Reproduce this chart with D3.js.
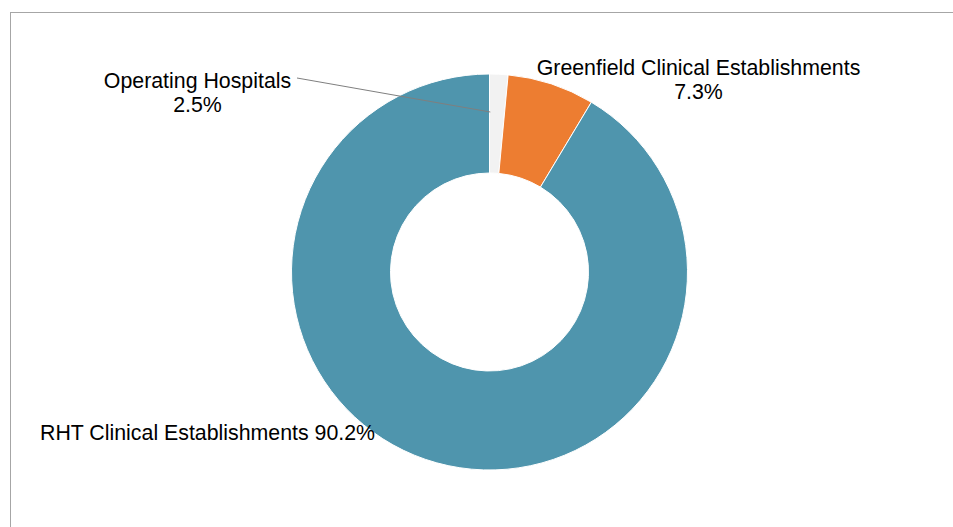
<!DOCTYPE html>
<html>
<head>
<meta charset="utf-8">
<script src="https://cdn.jsdelivr.net/npm/d3@7"></script>
<style>
  html, body { margin: 0; padding: 0; background: #fff; }
  svg { display: block; font-family: "Liberation Sans", Arial, sans-serif; }
</style>
</head>
<body>
<svg id="chart" width="953" height="527"></svg>
<script>
// slice shares as drawn in the picture, clockwise from 12 o'clock
const categories = ['Operating Hospitals', 'Greenfield Clinical Establishments', 'RHT Clinical Establishments'];
const values = [1.5, 7.1, 91.4];
const pctLabels = ['2.5%', '7.3%', '90.2%'];
const colors = ['#f2f2f2', '#ed7d31', '#4f95ad'];

const width = 953;
const height = 527;
const cx = 489.5;
const cy = 272;
const outerR = 198;
const innerR = 99;

const svg = d3.select('#chart');

// chart area frame (runs off the right and bottom edges)
svg.append('rect')
  .attr('x', 10.5)
  .attr('y', 12.5)
  .attr('width', width + 20)
  .attr('height', height + 20)
  .attr('fill', 'none')
  .attr('stroke', '#a6a6a6')
  .attr('stroke-width', 1);

const pie = d3.pie().value((d) => d).sort(null);
const arc = d3.arc().innerRadius(innerR).outerRadius(outerR);
const arcs = pie(values);

const g = svg.append('g').attr('transform', `translate(${cx}, ${cy})`);

g.selectAll('path')
  .data(arcs)
  .enter()
  .append('path')
  .attr('d', arc)
  .attr('fill', (d, i) => colors[i])
  .attr('stroke', '#fff')
  .attr('stroke-width', 1);

// labels: [x, y of first line, anchor, one line?]
const labelLayout = [
  { x: 197.5, y: 88, anchor: 'middle', single: false },
  { x: 698.5, y: 75, anchor: 'middle', single: false },
  { x: 40, y: 440, anchor: 'start', single: true }
];

labelLayout.forEach((l, i) => {
  const t = svg.append('text')
    .attr('x', l.x)
    .attr('y', l.y)
    .attr('text-anchor', l.anchor)
    .style('font-size', '21.33px')
    .attr('fill', '#000');
  if (l.single) {
    t.text(`${categories[i]} ${pctLabels[i]}`);
  } else {
    t.append('tspan').attr('x', l.x).text(categories[i]);
    t.append('tspan').attr('x', l.x).attr('dy', 24).text(pctLabels[i]);
  }
});

// leader line for the small slice
const end = d3.pointRadial(arcs[0].startAngle + 0.005, 160);
svg.append('line')
  .attr('x1', 297)
  .attr('y1', 78)
  .attr('x2', cx + end[0])
  .attr('y2', cy + end[1])
  .attr('stroke', '#7f7f7f')
  .attr('stroke-width', 1);
</script>
</body>
</html>
